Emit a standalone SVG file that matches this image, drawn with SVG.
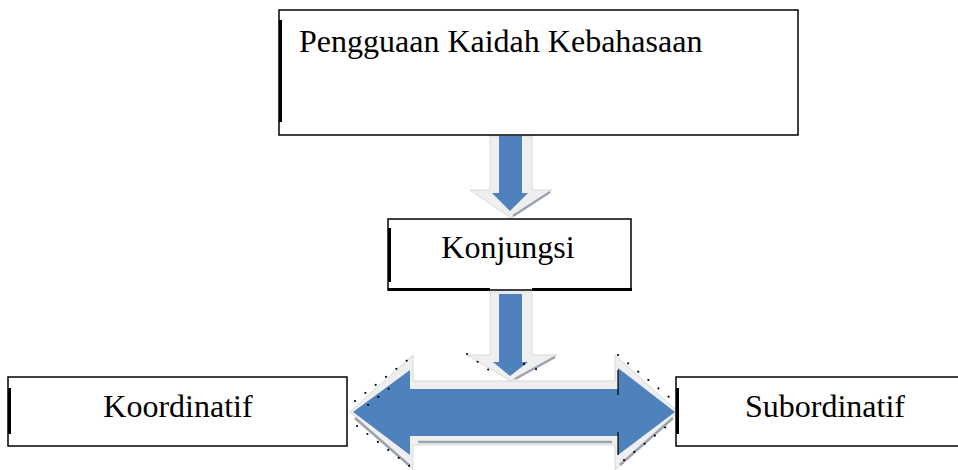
<svg xmlns="http://www.w3.org/2000/svg" width="958" height="470" viewBox="0 0 958 470">
<style>
.box{fill:#ffffff;stroke:#000000;stroke-width:1.5}
.bar{fill:#000000}
.lbl{font-family:"Liberation Serif","Times New Roman",serif;font-size:32px;fill:#000000}
.halo{fill:#efefef;stroke:#d8d8d8;stroke-width:1}
.blue{fill:#4f81bd}
.shade{fill:none;stroke:#9aa4b0;stroke-width:2.5}
.dots{fill:none;stroke:#000000;stroke-width:2;stroke-dasharray:0.1 13;stroke-linecap:round}
</style>
<rect width="958" height="470" fill="#ffffff"/>
<g id="connectors">
  <g id="arrow-top">
    <polygon class="halo" points="490,136 532,136 532,190 552,190 511,218 470,190 490,190"/>
    <path class="shade" d="M513,216 L550,192"/>
    <polygon class="blue" points="499,136 522,136 522,193 528,193 510,211 492,193 499,193"/>
  </g>
  <g id="arrow-double">
    <polygon class="halo" points="350,412 413,355 413,381 615,381 615,355 678,412 615,470 615,445 413,445 413,470"/>
    <path class="shade" d="M418,442 L612,442 M620,465 L673,418 M355,418 L410,466"/>
    <polygon class="blue" points="353,412 410,370 410,389 618,389 618,368 675,412 618,455 618,436 410,436 410,455"/>
    <path d="M618,370 L618,395 M618,432 L618,455" stroke="#000" stroke-width="1.2"/>
    <path class="dots" d="M355,401 L414,355 M368,405 L392,386 M357,426 L412,468 M618,355 L675,402 M624,460 L672,422"/>
  </g>
  <g id="arrow-mid">
    <polygon class="halo" points="490,292 532,292 532,355 557,355 511,381 467,355 490,355"/>
    <path class="shade" d="M515,379 L555,357"/>
    <polygon class="blue" points="499,294 522,294 522,362 528,362 510,376 493,362 499,362"/>
    <path class="dots" d="M467,354 L497,376 M524,364 L545,373"/>
  </g>
</g>
<g id="node-kaidah">
  <rect class="box" x="279" y="10" width="519" height="125"/>
  <rect class="bar" x="279" y="20" width="3" height="102"/>
  <text class="lbl" x="299" y="52">Pengguaan Kaidah Kebahasaan</text>
</g>
<g id="node-konjungsi">
  <rect class="box" x="388" y="219" width="243" height="71"/>
  <rect class="bar" x="388" y="228" width="3" height="54"/>
  <rect class="bar" x="388" y="288" width="102" height="3"/>
  <rect class="bar" x="532" y="288" width="100" height="3"/>
  <text class="lbl" x="508" y="258" text-anchor="middle">Konjungsi</text>
</g>
<g id="node-koordinatif">
  <rect class="box" x="8" y="377" width="339" height="69"/>
  <rect class="bar" x="8" y="388" width="3" height="46"/>
  <text class="lbl" x="178" y="417" text-anchor="middle">Koordinatif</text>
</g>
<g id="node-subordinatif">
  <rect class="box" x="676" y="377" width="290" height="69"/>
  <rect class="bar" x="676" y="388" width="3" height="46"/>
  <text class="lbl" x="825" y="417" text-anchor="middle">Subordinatif</text>
</g>
</svg>
